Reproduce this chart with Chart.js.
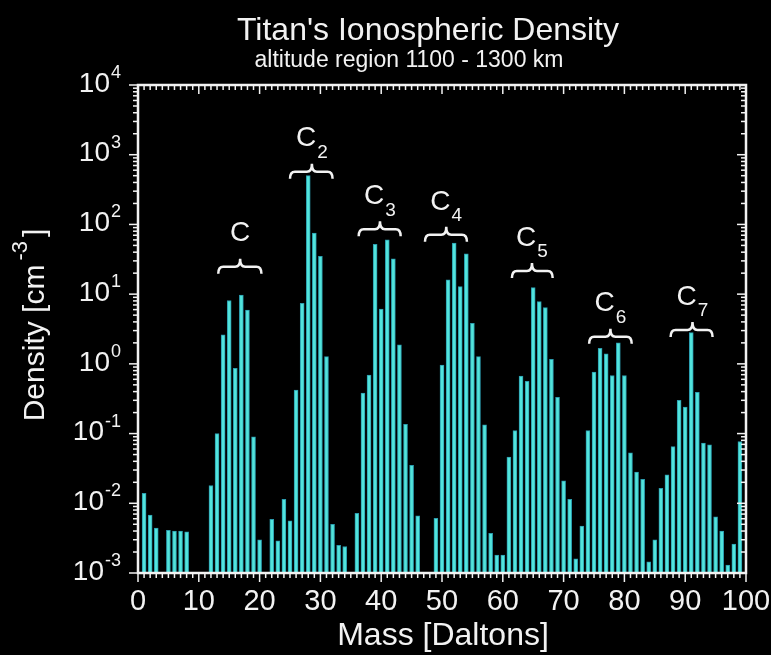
<!DOCTYPE html>
<html lang="en">
<head>
    <meta charset="UTF-8">
    <title>Titan's Ionospheric Density</title>
    <style>
        body {
            margin: 0;
            padding: 0;
            background-color: #000;
        }
        .chart-box {
            width: 771px;
            height: 655px;
        }
    </style>
</head>
<body>
    <div class="chart-box">
        <canvas id="chart"></canvas>
    </div>

    <script src="https://cdn.jsdelivr.net/npm/chart.js"></script>
    <script>
        // mass (Daltons) and density (cm^-3)
        const masses = [
            1, 2, 3, 5, 6, 7, 8,
            12, 13, 14, 15, 16, 17, 18, 19, 20,
            22, 23, 24, 25, 26, 27, 28, 29, 30, 31, 32, 33, 34,
            36, 37, 38, 39, 40, 41, 42, 43, 44, 45, 46,
            49, 50, 51, 52, 53, 54, 55, 56, 57, 58, 59, 60,
            61, 62, 63, 64, 65, 66, 67, 68, 69, 70, 71, 72, 73,
            74, 75, 76, 77, 78, 79, 80, 81, 82, 83, 84, 85,
            86, 87, 88, 89, 90, 91, 92, 93, 94, 95, 96, 97, 98, 99
        ];
        const density = [
            0.0139, 0.0068, 0.0044, 0.0041, 0.0040, 0.0040, 0.0039,
            0.018, 0.10, 2.6, 8.1, 0.86, 9.7, 5.9, 0.090, 0.0030,
            0.0059, 0.0029, 0.0114, 0.0056, 0.42, 7.4, 500, 75, 35, 1.27, 0.0050, 0.0025, 0.0024,
            0.0072, 0.38, 0.69, 52, 6.1, 60, 32, 1.87, 0.136, 0.035, 0.0066,
            0.0061, 0.96, 16, 54, 12.8, 38, 3.8, 1.27, 0.133, 0.0037, 0.0018, 0.0018,
            0.046, 0.110, 0.67, 0.56, 12.4, 7.8, 6.4, 1.16, 0.33, 0.021, 0.0114, 0.0016, 0.0047,
            0.110, 0.76, 1.67, 1.39, 0.68, 2.0, 0.68, 0.053, 0.028, 0.022, 0.00145, 0.0030,
            0.0164, 0.0255, 0.065, 0.30, 0.24, 2.8, 0.39, 0.073, 0.069, 0.0064, 0.0040, 0.0013, 0.0026, 0.077
        ];

        const xTickValues = [0, 10, 20, 30, 40, 50, 60, 70, 80, 90, 100];
        const yExponents = [-3, -2, -1, 0, 1, 2, 3, 4];

        // carbon-group brackets: label subscript, from mass, to mass, centre mass, density level
        const groupSubs = ['', '2', '3', '4', '5', '6', '7'];
        const groupFrom = [13.2, 25.0, 36.3, 47.2, 61.5, 74.2, 87.6];
        const groupTo = [20.3, 32.0, 43.2, 54.1, 68.2, 81.2, 94.5];
        const groupMid = [16.8, 28.6, 39.8, 50.7, 64.8, 77.7, 91.2];
        const groupLevel = [24.8, 572, 85, 71, 21.5, 2.45, 3.06];

        const ink = '#f2f2f2';
        const family = "'Liberation Sans', Arial, sans-serif";

        function line(ctx, x1, y1, x2, y2) {
            ctx.beginPath();
            ctx.moveTo(x1, y1);
            ctx.lineTo(x2, y2);
            ctx.stroke();
        }

        const decor = {
            id: 'decor',
            beforeDraw(chart) {
                const ctx = chart.ctx;
                ctx.save();
                ctx.fillStyle = '#000';
                ctx.fillRect(0, 0, chart.width, chart.height);
                ctx.restore();
            },
            afterDraw(chart) {
                const ctx = chart.ctx;
                const a = chart.chartArea;
                const x = chart.scales.x;
                const y = chart.scales.y;
                ctx.save();
                ctx.strokeStyle = ink;
                ctx.fillStyle = ink;

                // frame
                ctx.lineWidth = 2.5;
                ctx.strokeRect(a.left, a.top, a.right - a.left, a.bottom - a.top);

                // x ticks: bottom outward, top inward
                ctx.lineWidth = 1.5;
                for (let m = 0; m <= 100; m++) {
                    const px = x.getPixelForValue(m);
                    const len = m % 10 === 0 ? 9 : 5;
                    line(ctx, px, a.bottom, px, a.bottom + len);
                    line(ctx, px, a.top, px, a.top + len);
                }

                // y ticks: left outward, right inward
                for (let i = 0; i < yExponents.length; i++) {
                    const e = yExponents[i];
                    const py = y.getPixelForValue(Math.pow(10, e));
                    line(ctx, a.left - 9, py, a.left, py);
                    line(ctx, a.right - 9, py, a.right, py);
                    if (i === yExponents.length - 1) break;
                    for (let k = 2; k <= 9; k++) {
                        const pm = y.getPixelForValue(k * Math.pow(10, e));
                        line(ctx, a.left - 5, pm, a.left, pm);
                        line(ctx, a.right - 5, pm, a.right, pm);
                    }
                }

                // y tick labels 10^n
                yExponents.forEach(e => {
                    const py = y.getPixelForValue(Math.pow(10, e));
                    const sup = String(e);
                    ctx.font = '18px ' + family;
                    const supW = ctx.measureText(sup).width;
                    const right = a.left - 17;
                    ctx.textAlign = 'left';
                    ctx.textBaseline = 'top';
                    ctx.fillText(sup, right - supW, py - 21);
                    ctx.font = '28px ' + family;
                    ctx.textAlign = 'right';
                    ctx.textBaseline = 'middle';
                    ctx.fillText('10', right - supW - 1, py - 1);
                });

                // x tick labels
                ctx.font = '29px ' + family;
                ctx.textAlign = 'center';
                ctx.textBaseline = 'middle';
                xTickValues.forEach(v => {
                    ctx.fillText(String(v), x.getPixelForValue(v), a.bottom + 29);
                });

                // x title
                ctx.font = '32px ' + family;
                ctx.textBaseline = 'alphabetic';
                ctx.fillText('Mass [Daltons]', (a.left + a.right) / 2 + 1, 645);

                // title and subtitle
                ctx.fillText("Titan's Ionospheric Density", 428, 40);
                ctx.font = '23px ' + family;
                ctx.fillText('altitude region 1100 - 1300 km', 409, 67);

                // y title, rotated, with superscript
                ctx.save();
                ctx.translate(44, 325);
                ctx.rotate(-Math.PI / 2);
                ctx.font = '30px ' + family;
                const p1 = 'Density [cm';
                const p3 = ']';
                const w1 = ctx.measureText(p1).width;
                const w3 = ctx.measureText(p3).width;
                ctx.font = '22px ' + family;
                const w2 = ctx.measureText('-3').width;
                const total = w1 + 4 + w2 + 4 + w3;
                let cx = -total / 2;
                ctx.textAlign = 'left';
                ctx.font = '30px ' + family;
                ctx.fillText(p1, cx, 0);
                cx += w1 + 4;
                ctx.font = '22px ' + family;
                ctx.fillText('-3', cx, -17);
                cx += w2 + 4;
                ctx.font = '30px ' + family;
                ctx.fillText(p3, cx, 0);
                ctx.restore();

                // group brackets and labels
                ctx.lineWidth = 2.5;
                groupSubs.forEach((sub, i) => {
                    const x1 = x.getPixelForValue(groupFrom[i]);
                    const x2 = x.getPixelForValue(groupTo[i]);
                    const xc = x.getPixelForValue(groupMid[i]);
                    const y0 = y.getPixelForValue(groupLevel[i]);
                    ctx.beginPath();
                    ctx.moveTo(x1, y0 + 7);
                    ctx.quadraticCurveTo(x1, y0, x1 + 5, y0);
                    ctx.lineTo(xc - 5, y0);
                    ctx.quadraticCurveTo(xc, y0, xc, y0 - 8);
                    ctx.quadraticCurveTo(xc, y0, xc + 5, y0);
                    ctx.lineTo(x2 - 5, y0);
                    ctx.quadraticCurveTo(x2, y0, x2, y0 + 7);
                    ctx.stroke();

                    ctx.font = '28px ' + family;
                    const cw = ctx.measureText('C').width;
                    ctx.font = '19px ' + family;
                    const sw = sub ? ctx.measureText(sub).width + 1 : 0;
                    const left = xc - (cw + sw) / 2;
                    ctx.textAlign = 'left';
                    ctx.textBaseline = 'middle';
                    ctx.font = '28px ' + family;
                    ctx.fillText('C', left, y0 - 33);
                    if (sub) {
                        ctx.font = '19px ' + family;
                        ctx.fillText(sub, left + cw + 1, y0 - 19);
                    }
                });

                ctx.restore();
            }
        };

        new Chart(document.getElementById('chart'), {
            type: 'bar',
            data: {
                datasets: [{
                    data: masses.map((m, i) => ({ x: m, y: density[i] })),
                    backgroundColor: '#52e4dc',
                    borderColor: '#2b9cae',
                    borderWidth: 1,
                    barThickness: 4
                }]
            },
            options: {
                responsive: true,
                maintainAspectRatio: false,
                animation: false,
                layout: { padding: { left: 138, right: 25, top: 85, bottom: 82 } },
                plugins: {
                    legend: { display: false },
                    tooltip: { enabled: false }
                },
                scales: {
                    x: { type: 'linear', min: 0, max: 100, offset: false, display: false },
                    y: { type: 'logarithmic', min: 0.001, max: 10000, display: false }
                }
            },
            plugins: [decor]
        });
    </script>
</body>
</html>
